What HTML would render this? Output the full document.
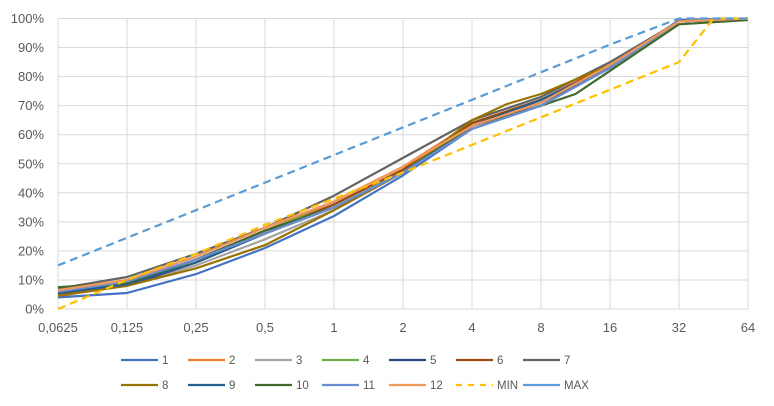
<!DOCTYPE html>
<html><head><meta charset="utf-8"><style>
body{margin:0;background:#fff;}
svg{display:block;font-family:"Liberation Sans",sans-serif;}
</style></head><body>
<svg id="c" width="774" height="406" xmlns="http://www.w3.org/2000/svg"></svg>
<script>
const s=document.getElementById('c');
const X=i=>58+69*i, Y=v=>309-2.905*v;
let h='';
for(let k=0;k<=10;k++){h+=`<line x1="58" x2="748" y1="${Y(k*10)}" y2="${Y(k*10)}" stroke="#d9d9d9" stroke-width="1"/>`;
 h+=`<text x="44" y="${Y(k*10)+4.5}" text-anchor="end" font-size="13" fill="#595959">${k*10}%</text>`;}
const labs=['0,0625','0,125','0,25','0,5','1','2','4','8','16','32','64'];
for(let i=0;i<11;i++){h+=`<line x1="${X(i)}" x2="${X(i)}" y1="18.5" y2="309" stroke="#d9d9d9"/>`;
 h+=`<text x="${X(i)}" y="332" text-anchor="middle" font-size="13" fill="#595959">${labs[i]}</text>`;}
const S=[
['1','#4472c4',[[0,4],[1,5.5],[2,12],[3,21],[4,32],[5,46],[6,62],[6.5,66],[7,70],[8,83],[9,99.5],[10,100]]],
['2','#ed7d31',[[0,6],[1,9],[2,17],[3,27],[4,37],[5,49],[6,64],[7,72],[8,84],[9,99],[10,100]]],
['3','#a5a5a5',[[0,5],[1,8],[2,15],[3,24],[4,34],[5,47],[6,63],[7,71],[8,84],[9,99],[10,100]]],
['4','#70ad47',[[0,6.5],[1,9],[2,17],[3,27],[4,36],[5,48],[6,64],[7,72],[8,83],[9,99],[10,100]]],
['5','#264478',[[0,5],[1,8],[2,16],[3,26],[4,35],[5,47],[6,63],[7,71],[8,83],[9,99],[10,100]]],
['6','#9e480e',[[0,5],[1,8.5],[2,16],[3,26],[4,36],[5,48],[6,64],[7,72],[8,84],[9,99],[10,100]]],
['7','#636363',[[0,7],[1,11],[2,19],[3,28],[4,39],[5,52],[6,65],[7,73],[8,85],[9,99],[10,100]]],
['8','#997300',[[0,4.5],[1,8],[2,14],[3,22],[4,34],[5,47],[6,65],[6.5,70.5],[7,74],[8,84],[9,99],[10,100]]],
['9','#255e91',[[0,5.5],[1,8.5],[2,16],[3,26],[4,35],[5,47],[6,63],[7,72],[8,83],[9,99],[10,100]]],
['10','#43682b',[[0,7.5],[1,9],[2,17],[3,27],[4,35],[5,47],[6,63],[7,70],[7.5,74],[8,82],[9,98],[10,99.5]]],
['11','#698ed0',[[0,6],[1,9.5],[2,17],[3,26],[4,35],[5,47],[6,62],[7,70],[8,83],[9,99],[10,100]]],
['12','#f1975a',[[0,6.5],[1,10],[2,18],[3,28],[4,37],[5,49],[6,63],[7,71],[8,84],[9,99],[10,100]]],
['MIN','#ffc000',[[0,0],[1,10],[2,19],[3,29],[4,38],[5,47],[6,56.5],[7,66],[8,75.5],[9,85],[9.5,100],[10,100]],1],
['MAX','#5b9bd5',[[0,15],[1,24.5],[2,34],[3,43.5],[4,53],[5,62.5],[6,72],[7,81.5],[8,91],[9,100],[10,100]],1]];
S.forEach((d,n)=>{
 const p=d[2].map(q=>X(q[0]).toFixed(1)+','+Y(q[1]).toFixed(1)).join(' ');
 h+=`<polyline points="${p}" fill="none" stroke="${d[1]}" stroke-width="2.2" stroke-linejoin="round" ${d[3]?'stroke-dasharray="8,5"':''}/>`;
 const r=n<7?0:1, c=n%7, lx=121+67*c, ly=r?385:360;
 h+=`<line x1="${lx}" x2="${lx+37}" y1="${ly}" y2="${ly}" stroke="${d[1]}" stroke-width="2.2" ${d[0]=='MIN'?'stroke-dasharray="6,6"':''}/>`;
 h+=`<text x="${lx+41}" y="${ly+4}" font-size="11.5" fill="#595959">${d[0]}</text>`;
});
s.innerHTML=h;
</script>
</body></html>
